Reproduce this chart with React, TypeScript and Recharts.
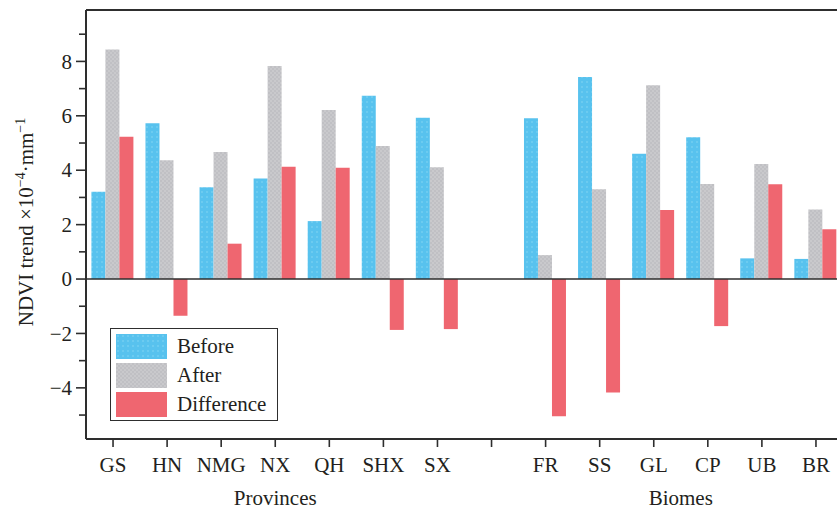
import React from 'react';
import { BarChart, Bar, XAxis, YAxis, ReferenceLine, Legend } from 'recharts';

const categories = ['GS', 'HN', 'NMG', 'NX', 'QH', 'SHX', 'SX', ' ', 'FR', 'SS', 'GL', 'CP', 'UB', 'BR'];
const before = [3.21, 5.73, 3.37, 3.70, 2.13, 6.74, 5.93, null, 5.91, 7.43, 4.61, 5.21, 0.76, 0.74];
const after = [8.44, 4.37, 4.67, 7.83, 6.21, 4.89, 4.11, null, 0.88, 3.30, 7.12, 3.49, 4.23, 2.56];
const difference = [5.23, -1.35, 1.30, 4.13, 4.09, -1.87, -1.84, null, -5.04, -4.17, 2.54, -1.73, 3.48, 1.83];
const groups = [
  { label: 'Provinces', from: 'GS', to: 'SX' },
  { label: 'Biomes', from: 'FR', to: 'BR' },
];
const yTicks = [-5, -4, -3, -2, -1, 0, 1, 2, 3, 4, 5, 6, 7, 8, 9];
const yDomain = [-5.88, 9.89];
const seriesNames = ['Before', 'After', 'Difference'];

const data = categories.map((c, i) => ({
  name: c,
  Before: before[i],
  After: after[i],
  Difference: difference[i],
}));

const FONT = "'Liberation Serif', 'Times New Roman', serif";
const INK = '#231f20';
const AXIS = '#2e2e2e';
const PLOT_LEFT = 86;
const fills: Record<string, string> = {
  Before: 'url(#patBlue)',
  After: 'url(#patGray)',
  Difference: 'url(#patRed)',
};

const Patterns = () => (
  <svg width={0} height={0} style={{ position: 'absolute' }}>
    <defs>
      <pattern id="patBlue" width={5} height={5} patternUnits="userSpaceOnUse">
        <rect width={5} height={5} fill="#58c2ee" />
        <rect x={1} y={1} width={2} height={2} fill="#6ccbf0" />
      </pattern>
      <pattern id="patGray" width={4} height={4} patternUnits="userSpaceOnUse">
        <rect width={4} height={4} fill="#c9c9cc" />
        <rect x={0} y={0} width={2} height={2} fill="#c0c0c4" />
        <rect x={2} y={2} width={2} height={2} fill="#c0c0c4" />
      </pattern>
      <pattern id="patRed" width={4} height={4} patternUnits="userSpaceOnUse">
        <rect width={4} height={4} fill="#ef6670" />
      </pattern>
    </defs>
  </svg>
);

const YTick = (props: any) => {
  const { y, payload } = props;
  const v = payload.value;
  const major = v % 2 === 0;
  return (
    <g>
      <line x1={PLOT_LEFT - (major ? 10 : 7)} x2={PLOT_LEFT} y1={y} y2={y} stroke={AXIS} strokeWidth={1.6} />
      {major && (
        <text x={PLOT_LEFT - 14} y={y} dy="0.34em" textAnchor="end" fontFamily={FONT} fontSize={21} fill={INK}>
          {v < 0 ? '\u2212' + Math.abs(v) : String(v)}
        </text>
      )}
    </g>
  );
};

const YLabel = () => (
  <text
    x={33}
    y={222}
    transform="rotate(-90 33 222)"
    textAnchor="middle"
    fontFamily={FONT}
    fontSize={21}
    fill={INK}
  >
    <tspan>NDVI trend ×10</tspan>
    <tspan dy={-8} fontSize={14}>{'\u22124'}</tspan>
    <tspan dy={8}>·mm</tspan>
    <tspan dy={-8} fontSize={14}>{'\u22121'}</tspan>
  </text>
);

const LegendBox = () => (
  <div
    style={{
      border: `1.5px solid ${AXIS}`,
      width: 166,
      height: 88,
      boxSizing: 'content-box',
      background: '#fff',
      fontFamily: FONT,
      fontSize: 21,
      color: INK,
      paddingTop: 3,
    }}
  >
    {seriesNames.map((n) => (
      <div key={n} style={{ display: 'flex', alignItems: 'center', height: 29 }}>
        <svg width={51} height={25} style={{ marginLeft: 5, marginRight: 10 }}>
          <rect width={51} height={25} fill={fills[n]} />
        </svg>
        <span style={{ lineHeight: '25px' }}>{n}</span>
      </div>
    ))}
  </div>
);

export default function App() {
  const coords: Record<string, number> = {};
  const XTick = (props: any) => {
    const { x, y, payload } = props;
    coords[payload.value] = x;
    const g = groups.find((gr) => gr.to === payload.value);
    return (
      <g>
        <text x={x} y={y} dy="0.71em" textAnchor="middle" fontFamily={FONT} fontSize={21} fill={INK}>
          {payload.value}
        </text>
        {g && coords[g.from] !== undefined && (
          <text
            x={(coords[g.from] + x) / 2}
            y={y + 48}
            textAnchor="middle"
            fontFamily={FONT}
            fontSize={21}
            fill={INK}
          >
            {g.label}
          </text>
        )}
      </g>
    );
  };

  return (
    <div style={{ position: 'fixed', left: 0, top: 0, width: 837, height: 510, overflow: 'hidden', background: '#fff' }}>
      <Patterns />
      <BarChart
        width={860}
        height={510}
        data={data}
        margin={{ top: 10, right: 17, bottom: 0, left: 0 }}
        barCategoryGap="10%"
        barGap={0}
      >
        <XAxis
          dataKey="name"
          height={71}
          interval={0}
          tickSize={8}
          tickMargin={10}
          tickLine={{ stroke: AXIS, strokeWidth: 1.6 }}
          axisLine={{ stroke: AXIS, strokeWidth: 2 }}
          tick={<XTick />}
        />
        <YAxis
          width={86}
          domain={yDomain}
          ticks={yTicks}
          allowDataOverflow
          interval={0}
          tickLine={false}
          axisLine={{ stroke: AXIS, strokeWidth: 2 }}
          tick={<YTick />}
          label={{ content: () => <YLabel /> }}
        />
        {seriesNames.map((n) => (
          <Bar key={n} dataKey={n} fill={fills[n]} isAnimationActive={false} />
        ))}
        <ReferenceLine y={0} stroke={AXIS} strokeWidth={1.6} />
        <ReferenceLine y={9.89} stroke={AXIS} strokeWidth={2} />
        <Legend
          layout="vertical"
          align="center"
          verticalAlign="middle"
          content={() => <LegendBox />}
          wrapperStyle={{ left: 110, top: 328, width: 'auto', height: 'auto' }}
        />
      </BarChart>
    </div>
  );
}
